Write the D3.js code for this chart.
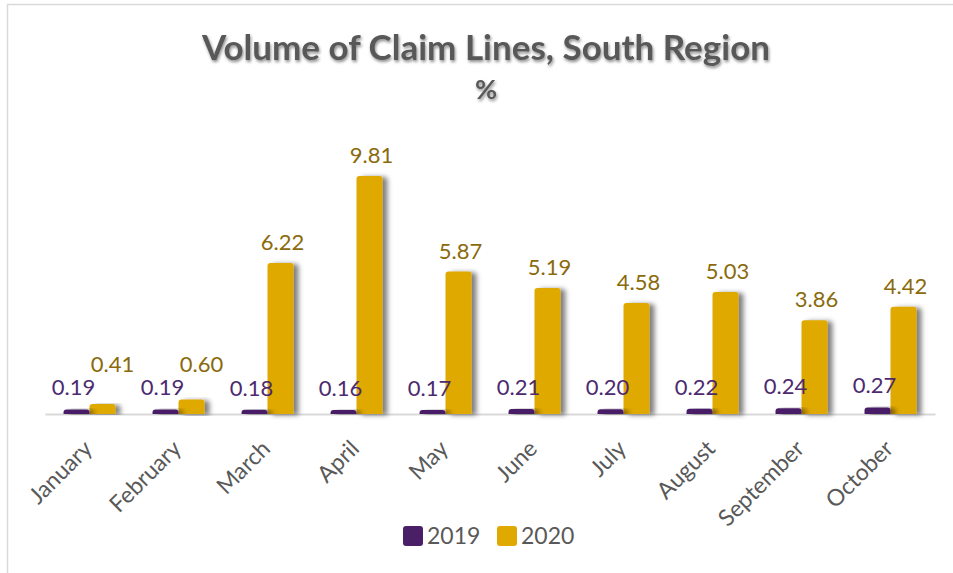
<!DOCTYPE html>
<html>
<head>
<meta charset="utf-8">
<script src="https://cdn.jsdelivr.net/npm/d3@7"></script>
<style>
  body { margin: 0; background: #fff; }
  svg { display: block; font-family: Lato, "Open Sans", sans-serif; }
</style>
</head>
<body>
<div id="chart"></div>
<script>
const months = ["January", "February", "March", "April", "May", "June", "July", "August", "September", "October"];
const series = ["2019", "2020"];
const values2019 = [0.19, 0.19, 0.18, 0.16, 0.17, 0.21, 0.20, 0.22, 0.24, 0.27];
const values2020 = [0.41, 0.60, 6.22, 9.81, 5.87, 5.19, 4.58, 5.03, 3.86, 4.42];

const W = 953, H = 573;
const colors = { "2019": "#4a1f68", "2020": "#e0a900" };
const labelColors = { "2019": "#4d2a70", "2020": "#8a6a0c" };

const svg = d3.select("#chart").append("svg")
    .attr("width", W)
    .attr("height", H);

const defs = svg.append("defs");
defs.append("filter").attr("id", "barShadow")
    .attr("x", "-20%").attr("y", "-10%").attr("width", "170%").attr("height", "120%")
    .append("feDropShadow")
    .attr("dx", 5).attr("dy", 1).attr("stdDeviation", 2.5)
    .attr("flood-color", "#000").attr("flood-opacity", 0.5);
defs.append("filter").attr("id", "titleShadow")
    .append("feDropShadow")
    .attr("dx", 1).attr("dy", 2).attr("stdDeviation", 1.5)
    .attr("flood-color", "#000").attr("flood-opacity", 0.45);

// frame (only top and left edges visible)
svg.append("path")
    .attr("d", "M7.5,573 V4.5 H953")
    .attr("fill", "none")
    .attr("stroke", "#d9d9d9")
    .attr("stroke-width", 1.5);

// title
svg.append("text")
    .attr("x", 486).attr("y", 60)
    .attr("text-anchor", "middle")
    .attr("font-size", 35).attr("font-weight", "bold")
    .attr("fill", "#595959")
    .attr("filter", "url(#titleShadow)")
    .text("Volume of Claim Lines, South Region");
svg.append("text")
    .attr("x", 486).attr("y", 99)
    .attr("text-anchor", "middle")
    .attr("font-size", 27).attr("font-weight", "bold")
    .attr("fill", "#595959")
    .attr("filter", "url(#titleShadow)")
    .text("%");

const x0 = d3.scaleBand()
    .domain(months)
    .range([45, 935])
    .paddingInner(0.416)
    .paddingOuter(0.208);

const x1 = d3.scaleBand()
    .domain(series)
    .range([0, x0.bandwidth()]);

const y = d3.scaleLinear()
    .domain([0, 10])
    .range([414, 171.4]);

const data = months.map((m, i) => ({ month: m, "2019": values2019[i], "2020": values2020[i] }));

function topRounded(x, yTop, w, h, r) {
    r = Math.min(r, h, w / 2);
    return `M${x},${yTop + h} V${yTop + r} Q${x},${yTop} ${x + r},${yTop} H${x + w - r} Q${x + w},${yTop} ${x + w},${yTop + r} V${yTop + h} Z`;
}

// axis
const axis = svg.append("g")
    .attr("transform", `translate(0,${y(0)})`)
    .call(d3.axisBottom(x0).tickSize(0).tickSizeOuter(0));
axis.select(".domain").attr("stroke", "#d9d9d9").attr("stroke-width", 2);
axis.selectAll(".tick text")
    .attr("font-family", "Lato, 'Open Sans', sans-serif")
    .attr("font-size", 23)
    .attr("fill", "#595959")
    .attr("text-anchor", "end")
    .attr("dy", 0)
    .attr("transform", "translate(2,34) rotate(-45)");

const groups = svg.append("g").selectAll("g")
    .data(data)
    .join("g")
    .attr("transform", d => `translate(${x0(d.month)},0)`);

// bars, 2020 first so the 2019 bar sits on top
groups.selectAll("path.bar")
    .data(d => series.map(s => ({ key: s, value: d[s] })).reverse())
    .join("path")
    .attr("class", "bar")
    .attr("fill", d => colors[d.key])
    .attr("filter", "url(#barShadow)")
    .attr("d", d => topRounded(x1(d.key), y(d.value), x1.bandwidth(), y(0) - y(d.value), 3));

// value labels
groups.selectAll("text.val")
    .data(d => series.map(s => ({ key: s, value: d[s] })))
    .join("text")
    .attr("class", "val")
    .attr("text-anchor", "middle")
    .attr("font-size", 22)
    .attr("fill", d => labelColors[d.key])
    .attr("x", d => {
        const cx = x1(d.key) + x1.bandwidth() / 2;
        if (d.key === "2019") return cx - 3;
        return d.value < 1 ? cx + 10 : cx + 2;
    })
    .attr("y", d => {
        if (d.key === "2019") return y(d.value) - 14;
        return d.value < 1 ? y(0) - 42 : y(d.value) - 13;
    })
    .text(d => d.value.toFixed(2));

// legend
const legend = svg.append("g").attr("transform", "translate(403,526)");
const items = legend.selectAll("g")
    .data(series)
    .join("g")
    .attr("transform", (d, i) => `translate(${i * 94},0)`);
items.append("rect")
    .attr("width", 20).attr("height", 20)
    .attr("rx", 3)
    .attr("fill", d => colors[d]);
items.append("text")
    .attr("x", 24).attr("y", 18)
    .attr("font-size", 23)
    .attr("fill", "#595959")
    .text(d => d);
</script>
</body>
</html>
